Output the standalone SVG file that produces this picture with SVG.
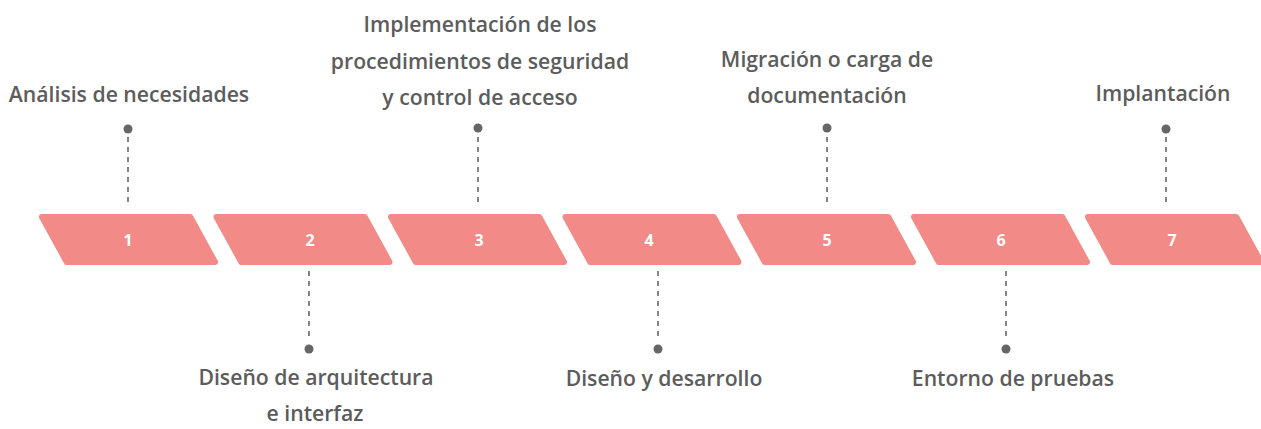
<svg xmlns="http://www.w3.org/2000/svg" xmlns:xlink="http://www.w3.org/1999/xlink" width="1261" height="429" viewBox="0 0 1261 429">
<style>
.shape{fill:#F28B87;stroke:#F28B87;stroke-width:6;stroke-linejoin:round}
.num{font-family:"Open Sans","Liberation Sans",sans-serif;font-weight:700;font-size:16px;fill:#ffffff;text-anchor:middle}
.lbl{font-family:"Open Sans","Liberation Sans",sans-serif;font-weight:600;font-size:21.2px;fill:#5c5c5c;text-anchor:middle}
.dash{stroke:#666666;stroke-width:1.6;stroke-dasharray:5 5;fill:none}
.dot{fill:#666666}
</style>
<defs>
<path id="para" d="M5.05,3 H153.25 L177.95,48 H29.75 Z"/>
</defs>
<rect width="1261" height="429" fill="#ffffff"/>
<g id="connectors">
<line class="dash" x1="128" y1="137" x2="128" y2="206"/>
<line class="dash" x1="309" y1="271" x2="309" y2="341"/>
<line class="dash" x1="478" y1="137" x2="478" y2="206"/>
<line class="dash" x1="658" y1="271" x2="658" y2="341"/>
<line class="dash" x1="827" y1="137" x2="827" y2="206"/>
<line class="dash" x1="1006" y1="271" x2="1006" y2="341"/>
<line class="dash" x1="1166" y1="137" x2="1166" y2="206"/>
<circle class="dot" cx="128" cy="129" r="4.5"/>
<circle class="dot" cx="309" cy="349" r="4.5"/>
<circle class="dot" cx="478" cy="128" r="4.5"/>
<circle class="dot" cx="658" cy="349" r="4.5"/>
<circle class="dot" cx="827" cy="128" r="4.5"/>
<circle class="dot" cx="1006" cy="349" r="4.5"/>
<circle class="dot" cx="1166" cy="129" r="4.5"/>
</g>
<g id="step1">
<use xlink:href="#para" class="shape" transform="translate(37,214)"/>
<text class="num" x="128" y="246">1</text>
<text class="lbl" x="129" y="102">Análisis de necesidades</text>
</g>
<g id="step2">
<use xlink:href="#para" class="shape" transform="translate(211.5,214)"/>
<text class="num" x="310" y="246">2</text>
<text class="lbl" x="316" y="385">Diseño de arquitectura</text>
<text class="lbl" x="315" y="421">e interfaz</text>
</g>
<g id="step3">
<use xlink:href="#para" class="shape" transform="translate(386,214)"/>
<text class="num" x="479" y="246">3</text>
<text class="lbl" x="480" y="32">Implementación de los</text>
<text class="lbl" x="480" y="69">procedimientos de seguridad</text>
<text class="lbl" x="480" y="105">y control de acceso</text>
</g>
<g id="step4">
<use xlink:href="#para" class="shape" transform="translate(560.5,214)"/>
<text class="num" x="649" y="246">4</text>
<text class="lbl" x="664" y="386">Diseño y desarrollo</text>
</g>
<g id="step5">
<use xlink:href="#para" class="shape" transform="translate(735,214)"/>
<text class="num" x="827" y="246">5</text>
<text class="lbl" x="827" y="67">Migración o carga de</text>
<text class="lbl" x="827" y="103">documentación</text>
</g>
<g id="step6">
<use xlink:href="#para" class="shape" transform="translate(909,214)"/>
<text class="num" x="1001" y="246">6</text>
<text class="lbl" x="1013" y="386">Entorno de pruebas</text>
</g>
<g id="step7">
<use xlink:href="#para" class="shape" transform="translate(1083,214)"/>
<text class="num" x="1172" y="246">7</text>
<text class="lbl" x="1163" y="101">Implantación</text>
</g>
</svg>
